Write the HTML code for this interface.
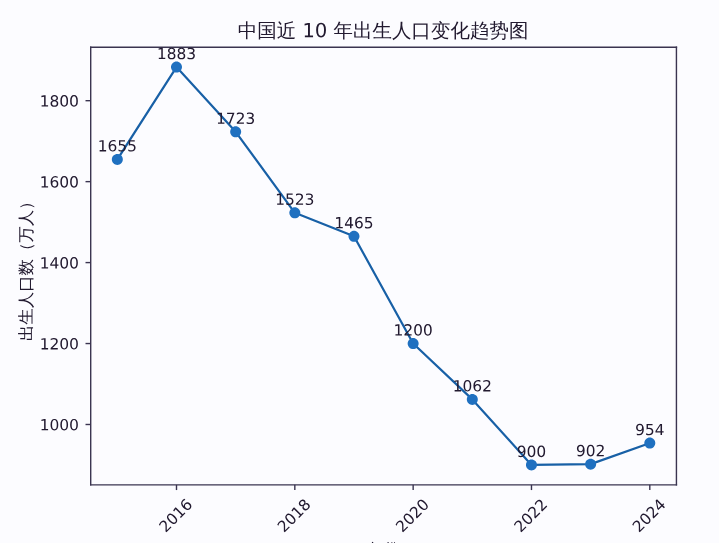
<!DOCTYPE html><html><head><meta charset="utf-8"><style>html,body{margin:0;padding:0;background:#fcfcff;overflow:hidden}svg{display:block}g[id^="text_"] use{stroke:#221a30;stroke-width:0.4}#text_21 use,#text_22 use,#text_23 use{stroke:#221a30;stroke-width:0.8}</style></head><body><svg width="719" height="543" viewBox="0 0 719 543" version="1.1">
<defs>
<style type="text/css">*{stroke-linejoin: round; stroke-linecap: butt}</style>
</defs>
<g id="figure_1">
<g id="patch_1">
<path d="M 0 543 
L 719 543 
L 719 0 
L 0 0 
z
" style="fill: #fcfcff"/>
</g>
<g id="axes_1">
<g id="patch_2">
<path d="M 90.71 484.86 
L 676.43 484.86 
L 676.43 47.2 
L 90.71 47.2 
z
" style="fill: #fcfcff"/>
</g>
<g id="matplotlib.axis_1">
<g id="xtick_1">
<g id="line2d_1">
<defs>
<path id="m2a3c18545f" d="M 0 0 
L 0 5.2 
" style="stroke: #3a3450; stroke-width: 1.4"/>
</defs>
<g>
<use href="#m2a3c18545f" x="176.497273" y="484.86" style="fill: #3a3450; stroke: #3a3450; stroke-width: 1.4"/>
</g>
</g>
<g id="text_1">
<!-- 2016 -->
<g style="fill: #221a30" transform="translate(165.645261 533.147912) rotate(-45) scale(0.154 -0.154)">
<defs>
<path id="DejaVuSans-32" d="M 1228 531 
L 3431 531 
L 3431 0 
L 469 0 
L 469 531 
Q 828 903 1448 1529 
Q 2069 2156 2228 2338 
Q 2531 2678 2651 2914 
Q 2772 3150 2772 3378 
Q 2772 3750 2511 3984 
Q 2250 4219 1831 4219 
Q 1534 4219 1204 4116 
Q 875 4013 500 3803 
L 500 4441 
Q 881 4594 1212 4672 
Q 1544 4750 1819 4750 
Q 2544 4750 2975 4387 
Q 3406 4025 3406 3419 
Q 3406 3131 3298 2873 
Q 3191 2616 2906 2266 
Q 2828 2175 2409 1742 
Q 1991 1309 1228 531 
z
" transform="scale(0.015625)"/>
<path id="DejaVuSans-30" d="M 2034 4250 
Q 1547 4250 1301 3770 
Q 1056 3291 1056 2328 
Q 1056 1369 1301 889 
Q 1547 409 2034 409 
Q 2525 409 2770 889 
Q 3016 1369 3016 2328 
Q 3016 3291 2770 3770 
Q 2525 4250 2034 4250 
z
M 2034 4750 
Q 2819 4750 3233 4129 
Q 3647 3509 3647 2328 
Q 3647 1150 3233 529 
Q 2819 -91 2034 -91 
Q 1250 -91 836 529 
Q 422 1150 422 2328 
Q 422 3509 836 4129 
Q 1250 4750 2034 4750 
z
" transform="scale(0.015625)"/>
<path id="DejaVuSans-31" d="M 794 531 
L 1825 531 
L 1825 4091 
L 703 3866 
L 703 4441 
L 1819 4666 
L 2450 4666 
L 2450 531 
L 3481 531 
L 3481 0 
L 794 0 
L 794 531 
z
" transform="scale(0.015625)"/>
<path id="DejaVuSans-36" d="M 2113 2584 
Q 1688 2584 1439 2293 
Q 1191 2003 1191 1497 
Q 1191 994 1439 701 
Q 1688 409 2113 409 
Q 2538 409 2786 701 
Q 3034 994 3034 1497 
Q 3034 2003 2786 2293 
Q 2538 2584 2113 2584 
z
M 3366 4563 
L 3366 3988 
Q 3128 4100 2886 4159 
Q 2644 4219 2406 4219 
Q 1781 4219 1451 3797 
Q 1122 3375 1075 2522 
Q 1259 2794 1537 2939 
Q 1816 3084 2150 3084 
Q 2853 3084 3261 2657 
Q 3669 2231 3669 1497 
Q 3669 778 3244 343 
Q 2819 -91 2113 -91 
Q 1303 -91 875 529 
Q 447 1150 447 2328 
Q 447 3434 972 4092 
Q 1497 4750 2381 4750 
Q 2619 4750 2861 4703 
Q 3103 4656 3366 4563 
z
" transform="scale(0.015625)"/>
</defs>
<use href="#DejaVuSans-32"/>
<use href="#DejaVuSans-30" transform="translate(63.623047 0)"/>
<use href="#DejaVuSans-31" transform="translate(127.246094 0)"/>
<use href="#DejaVuSans-36" transform="translate(190.869141 0)"/>
</g>
</g>
</g>
<g id="xtick_2">
<g id="line2d_2">
<g>
<use href="#m2a3c18545f" x="294.824545" y="484.86" style="fill: #3a3450; stroke: #3a3450; stroke-width: 1.4"/>
</g>
</g>
<g id="text_2">
<!-- 2018 -->
<g style="fill: #221a30" transform="translate(283.972533 533.147912) rotate(-45) scale(0.154 -0.154)">
<defs>
<path id="DejaVuSans-38" d="M 2034 2216 
Q 1584 2216 1326 1975 
Q 1069 1734 1069 1313 
Q 1069 891 1326 650 
Q 1584 409 2034 409 
Q 2484 409 2743 651 
Q 3003 894 3003 1313 
Q 3003 1734 2745 1975 
Q 2488 2216 2034 2216 
z
M 1403 2484 
Q 997 2584 770 2862 
Q 544 3141 544 3541 
Q 544 4100 942 4425 
Q 1341 4750 2034 4750 
Q 2731 4750 3128 4425 
Q 3525 4100 3525 3541 
Q 3525 3141 3298 2862 
Q 3072 2584 2669 2484 
Q 3125 2378 3379 2068 
Q 3634 1759 3634 1313 
Q 3634 634 3220 271 
Q 2806 -91 2034 -91 
Q 1263 -91 848 271 
Q 434 634 434 1313 
Q 434 1759 690 2068 
Q 947 2378 1403 2484 
z
M 1172 3481 
Q 1172 3119 1398 2916 
Q 1625 2713 2034 2713 
Q 2441 2713 2670 2916 
Q 2900 3119 2900 3481 
Q 2900 3844 2670 4047 
Q 2441 4250 2034 4250 
Q 1625 4250 1398 4047 
Q 1172 3844 1172 3481 
z
" transform="scale(0.015625)"/>
</defs>
<use href="#DejaVuSans-32"/>
<use href="#DejaVuSans-30" transform="translate(63.623047 0)"/>
<use href="#DejaVuSans-31" transform="translate(127.246094 0)"/>
<use href="#DejaVuSans-38" transform="translate(190.869141 0)"/>
</g>
</g>
</g>
<g id="xtick_3">
<g id="line2d_3">
<g>
<use href="#m2a3c18545f" x="413.151818" y="484.86" style="fill: #3a3450; stroke: #3a3450; stroke-width: 1.4"/>
</g>
</g>
<g id="text_3">
<!-- 2020 -->
<g style="fill: #221a30" transform="translate(402.299806 533.147912) rotate(-45) scale(0.154 -0.154)">
<use href="#DejaVuSans-32"/>
<use href="#DejaVuSans-30" transform="translate(63.623047 0)"/>
<use href="#DejaVuSans-32" transform="translate(127.246094 0)"/>
<use href="#DejaVuSans-30" transform="translate(190.869141 0)"/>
</g>
</g>
</g>
<g id="xtick_4">
<g id="line2d_4">
<g>
<use href="#m2a3c18545f" x="531.479091" y="484.86" style="fill: #3a3450; stroke: #3a3450; stroke-width: 1.4"/>
</g>
</g>
<g id="text_4">
<!-- 2022 -->
<g style="fill: #221a30" transform="translate(520.627079 533.147912) rotate(-45) scale(0.154 -0.154)">
<use href="#DejaVuSans-32"/>
<use href="#DejaVuSans-30" transform="translate(63.623047 0)"/>
<use href="#DejaVuSans-32" transform="translate(127.246094 0)"/>
<use href="#DejaVuSans-32" transform="translate(190.869141 0)"/>
</g>
</g>
</g>
<g id="xtick_5">
<g id="line2d_5">
<g>
<use href="#m2a3c18545f" x="649.806364" y="484.86" style="fill: #3a3450; stroke: #3a3450; stroke-width: 1.4"/>
</g>
</g>
<g id="text_5">
<!-- 2024 -->
<g style="fill: #221a30" transform="translate(638.954352 533.147912) rotate(-45) scale(0.154 -0.154)">
<defs>
<path id="DejaVuSans-34" d="M 2419 4116 
L 825 1625 
L 2419 1625 
L 2419 4116 
z
M 2253 4666 
L 3047 4666 
L 3047 1625 
L 3713 1625 
L 3713 1100 
L 3047 1100 
L 3047 0 
L 2419 0 
L 2419 1100 
L 313 1100 
L 313 1709 
L 2253 4666 
z
" transform="scale(0.015625)"/>
</defs>
<use href="#DejaVuSans-32"/>
<use href="#DejaVuSans-30" transform="translate(63.623047 0)"/>
<use href="#DejaVuSans-32" transform="translate(127.246094 0)"/>
<use href="#DejaVuSans-34" transform="translate(190.869141 0)"/>
</g>
</g>
</g>
</g>
<g id="matplotlib.axis_2">
<g id="ytick_1">
<g id="line2d_6">
<defs>
<path id="mef8ab3b130" d="M 0 0 
L -5.2 0 
" style="stroke: #3a3450; stroke-width: 1.4"/>
</defs>
<g>
<use href="#mef8ab3b130" x="90.71" y="424.49101" style="fill: #3a3450; stroke: #3a3450; stroke-width: 1.4"/>
</g>
</g>
<g id="text_6">
<!-- 1000 -->
<g style="fill: #221a30" transform="translate(39.717 430.341807) scale(0.154 -0.154)">
<use href="#DejaVuSans-31"/>
<use href="#DejaVuSans-30" transform="translate(63.623047 0)"/>
<use href="#DejaVuSans-30" transform="translate(127.246094 0)"/>
<use href="#DejaVuSans-30" transform="translate(190.869141 0)"/>
</g>
</g>
</g>
<g id="ytick_2">
<g id="line2d_7">
<g>
<use href="#mef8ab3b130" x="90.71" y="343.540302" style="fill: #3a3450; stroke: #3a3450; stroke-width: 1.4"/>
</g>
</g>
<g id="text_7">
<!-- 1200 -->
<g style="fill: #221a30" transform="translate(39.717 349.391099) scale(0.154 -0.154)">
<use href="#DejaVuSans-31"/>
<use href="#DejaVuSans-32" transform="translate(63.623047 0)"/>
<use href="#DejaVuSans-30" transform="translate(127.246094 0)"/>
<use href="#DejaVuSans-30" transform="translate(190.869141 0)"/>
</g>
</g>
</g>
<g id="ytick_3">
<g id="line2d_8">
<g>
<use href="#mef8ab3b130" x="90.71" y="262.589595" style="fill: #3a3450; stroke: #3a3450; stroke-width: 1.4"/>
</g>
</g>
<g id="text_8">
<!-- 1400 -->
<g style="fill: #221a30" transform="translate(39.717 268.440392) scale(0.154 -0.154)">
<use href="#DejaVuSans-31"/>
<use href="#DejaVuSans-34" transform="translate(63.623047 0)"/>
<use href="#DejaVuSans-30" transform="translate(127.246094 0)"/>
<use href="#DejaVuSans-30" transform="translate(190.869141 0)"/>
</g>
</g>
</g>
<g id="ytick_4">
<g id="line2d_9">
<g>
<use href="#mef8ab3b130" x="90.71" y="181.638887" style="fill: #3a3450; stroke: #3a3450; stroke-width: 1.4"/>
</g>
</g>
<g id="text_9">
<!-- 1600 -->
<g style="fill: #221a30" transform="translate(39.717 187.489684) scale(0.154 -0.154)">
<use href="#DejaVuSans-31"/>
<use href="#DejaVuSans-36" transform="translate(63.623047 0)"/>
<use href="#DejaVuSans-30" transform="translate(127.246094 0)"/>
<use href="#DejaVuSans-30" transform="translate(190.869141 0)"/>
</g>
</g>
</g>
<g id="ytick_5">
<g id="line2d_10">
<g>
<use href="#mef8ab3b130" x="90.71" y="100.68818" style="fill: #3a3450; stroke: #3a3450; stroke-width: 1.4"/>
</g>
</g>
<g id="text_10">
<!-- 1800 -->
<g style="fill: #221a30" transform="translate(39.717 106.538977) scale(0.154 -0.154)">
<use href="#DejaVuSans-31"/>
<use href="#DejaVuSans-38" transform="translate(63.623047 0)"/>
<use href="#DejaVuSans-30" transform="translate(127.246094 0)"/>
<use href="#DejaVuSans-30" transform="translate(190.869141 0)"/>
</g>
</g>
</g>
</g>
<g id="line2d_11">
<path d="M 117.333636 159.377443 
L 176.497273 67.093636 
L 235.660909 131.854202 
L 294.824545 212.80491 
L 353.988182 236.280615 
L 413.151818 343.540302 
L 472.315455 399.396291 
L 531.479091 464.966364 
L 590.642727 464.156857 
L 649.806364 443.109673 
" clip-path="url(#pcb9a251794)" style="fill: none; stroke: #1860a6; stroke-width: 2.2; stroke-linecap: square"/>
</g>
<g id="line2d_12">
<defs>
<path id="mc43b72690f" d="M 0 5.5 
C 1.458617 5.5 2.857689 4.920485 3.889087 3.889087 
C 4.920485 2.857689 5.5 1.458617 5.5 0 
C 5.5 -1.458617 4.920485 -2.857689 3.889087 -3.889087 
C 2.857689 -4.920485 1.458617 -5.5 0 -5.5 
C -1.458617 -5.5 -2.857689 -4.920485 -3.889087 -3.889087 
C -4.920485 -2.857689 -5.5 -1.458617 -5.5 0 
C -5.5 1.458617 -4.920485 2.857689 -3.889087 3.889087 
C -2.857689 4.920485 -1.458617 5.5 0 5.5 
z
"/>
</defs>
<g clip-path="url(#pcb9a251794)">
<use href="#mc43b72690f" x="117.333636" y="159.377443" style="fill: #1f70c0"/>
<use href="#mc43b72690f" x="176.497273" y="67.093636" style="fill: #1f70c0"/>
<use href="#mc43b72690f" x="235.660909" y="131.854202" style="fill: #1f70c0"/>
<use href="#mc43b72690f" x="294.824545" y="212.80491" style="fill: #1f70c0"/>
<use href="#mc43b72690f" x="353.988182" y="236.280615" style="fill: #1f70c0"/>
<use href="#mc43b72690f" x="413.151818" y="343.540302" style="fill: #1f70c0"/>
<use href="#mc43b72690f" x="472.315455" y="399.396291" style="fill: #1f70c0"/>
<use href="#mc43b72690f" x="531.479091" y="464.966364" style="fill: #1f70c0"/>
<use href="#mc43b72690f" x="590.642727" y="464.156857" style="fill: #1f70c0"/>
<use href="#mc43b72690f" x="649.806364" y="443.109673" style="fill: #1f70c0"/>
</g>
</g>
<g id="patch_3">
<path d="M 90.71 484.86 
L 90.71 47.2 
" style="fill: none; stroke: #3a3450; stroke-width: 1.4; stroke-linejoin: miter; stroke-linecap: square"/>
</g>
<g id="patch_4">
<path d="M 676.43 484.86 
L 676.43 47.2 
" style="fill: none; stroke: #3a3450; stroke-width: 1.4; stroke-linejoin: miter; stroke-linecap: square"/>
</g>
<g id="patch_5">
<path d="M 90.71 484.86 
L 676.43 484.86 
" style="fill: none; stroke: #3a3450; stroke-width: 1.4; stroke-linejoin: miter; stroke-linecap: square"/>
</g>
<g id="patch_6">
<path d="M 90.71 47.2 
L 676.43 47.2 
" style="fill: none; stroke: #3a3450; stroke-width: 1.4; stroke-linejoin: miter; stroke-linecap: square"/>
</g>
<g id="text_11">
<!-- 1655 -->
<g style="fill: #221a30" transform="translate(97.737136 151.377443) scale(0.154 -0.154)">
<defs>
<path id="DejaVuSans-35" d="M 691 4666 
L 3169 4666 
L 3169 4134 
L 1269 4134 
L 1269 2991 
Q 1406 3038 1543 3061 
Q 1681 3084 1819 3084 
Q 2600 3084 3056 2656 
Q 3513 2228 3513 1497 
Q 3513 744 3044 326 
Q 2575 -91 1722 -91 
Q 1428 -91 1123 -41 
Q 819 9 494 109 
L 494 744 
Q 775 591 1075 516 
Q 1375 441 1709 441 
Q 2250 441 2565 725 
Q 2881 1009 2881 1497 
Q 2881 1984 2565 2268 
Q 2250 2553 1709 2553 
Q 1456 2553 1204 2497 
Q 953 2441 691 2322 
L 691 4666 
z
" transform="scale(0.015625)"/>
</defs>
<use href="#DejaVuSans-31"/>
<use href="#DejaVuSans-36" transform="translate(63.623047 0)"/>
<use href="#DejaVuSans-35" transform="translate(127.246094 0)"/>
<use href="#DejaVuSans-35" transform="translate(190.869141 0)"/>
</g>
</g>
<g id="text_12">
<!-- 1883 -->
<g style="fill: #221a30" transform="translate(156.900773 59.093636) scale(0.154 -0.154)">
<defs>
<path id="DejaVuSans-33" d="M 2597 2516 
Q 3050 2419 3304 2112 
Q 3559 1806 3559 1356 
Q 3559 666 3084 287 
Q 2609 -91 1734 -91 
Q 1441 -91 1130 -33 
Q 819 25 488 141 
L 488 750 
Q 750 597 1062 519 
Q 1375 441 1716 441 
Q 2309 441 2620 675 
Q 2931 909 2931 1356 
Q 2931 1769 2642 2001 
Q 2353 2234 1838 2234 
L 1294 2234 
L 1294 2753 
L 1863 2753 
Q 2328 2753 2575 2939 
Q 2822 3125 2822 3475 
Q 2822 3834 2567 4026 
Q 2313 4219 1838 4219 
Q 1578 4219 1281 4162 
Q 984 4106 628 3988 
L 628 4550 
Q 988 4650 1302 4700 
Q 1616 4750 1894 4750 
Q 2613 4750 3031 4423 
Q 3450 4097 3450 3541 
Q 3450 3153 3228 2886 
Q 3006 2619 2597 2516 
z
" transform="scale(0.015625)"/>
</defs>
<use href="#DejaVuSans-31"/>
<use href="#DejaVuSans-38" transform="translate(63.623047 0)"/>
<use href="#DejaVuSans-38" transform="translate(127.246094 0)"/>
<use href="#DejaVuSans-33" transform="translate(190.869141 0)"/>
</g>
</g>
<g id="text_13">
<!-- 1723 -->
<g style="fill: #221a30" transform="translate(216.064409 123.854202) scale(0.154 -0.154)">
<defs>
<path id="DejaVuSans-37" d="M 525 4666 
L 3525 4666 
L 3525 4397 
L 1831 0 
L 1172 0 
L 2766 4134 
L 525 4134 
L 525 4666 
z
" transform="scale(0.015625)"/>
</defs>
<use href="#DejaVuSans-31"/>
<use href="#DejaVuSans-37" transform="translate(63.623047 0)"/>
<use href="#DejaVuSans-32" transform="translate(127.246094 0)"/>
<use href="#DejaVuSans-33" transform="translate(190.869141 0)"/>
</g>
</g>
<g id="text_14">
<!-- 1523 -->
<g style="fill: #221a30" transform="translate(275.228045 204.80491) scale(0.154 -0.154)">
<use href="#DejaVuSans-31"/>
<use href="#DejaVuSans-35" transform="translate(63.623047 0)"/>
<use href="#DejaVuSans-32" transform="translate(127.246094 0)"/>
<use href="#DejaVuSans-33" transform="translate(190.869141 0)"/>
</g>
</g>
<g id="text_15">
<!-- 1465 -->
<g style="fill: #221a30" transform="translate(334.391682 228.280615) scale(0.154 -0.154)">
<use href="#DejaVuSans-31"/>
<use href="#DejaVuSans-34" transform="translate(63.623047 0)"/>
<use href="#DejaVuSans-36" transform="translate(127.246094 0)"/>
<use href="#DejaVuSans-35" transform="translate(190.869141 0)"/>
</g>
</g>
<g id="text_16">
<!-- 1200 -->
<g style="fill: #221a30" transform="translate(393.555318 335.540302) scale(0.154 -0.154)">
<use href="#DejaVuSans-31"/>
<use href="#DejaVuSans-32" transform="translate(63.623047 0)"/>
<use href="#DejaVuSans-30" transform="translate(127.246094 0)"/>
<use href="#DejaVuSans-30" transform="translate(190.869141 0)"/>
</g>
</g>
<g id="text_17">
<!-- 1062 -->
<g style="fill: #221a30" transform="translate(452.718955 391.396291) scale(0.154 -0.154)">
<use href="#DejaVuSans-31"/>
<use href="#DejaVuSans-30" transform="translate(63.623047 0)"/>
<use href="#DejaVuSans-36" transform="translate(127.246094 0)"/>
<use href="#DejaVuSans-32" transform="translate(190.869141 0)"/>
</g>
</g>
<g id="text_18">
<!-- 900 -->
<g style="fill: #221a30" transform="translate(516.781716 456.966364) scale(0.154 -0.154)">
<defs>
<path id="DejaVuSans-39" d="M 703 97 
L 703 672 
Q 941 559 1184 500 
Q 1428 441 1663 441 
Q 2288 441 2617 861 
Q 2947 1281 2994 2138 
Q 2813 1869 2534 1725 
Q 2256 1581 1919 1581 
Q 1219 1581 811 2004 
Q 403 2428 403 3163 
Q 403 3881 828 4315 
Q 1253 4750 1959 4750 
Q 2769 4750 3195 4129 
Q 3622 3509 3622 2328 
Q 3622 1225 3098 567 
Q 2575 -91 1691 -91 
Q 1453 -91 1209 -44 
Q 966 3 703 97 
z
M 1959 2075 
Q 2384 2075 2632 2365 
Q 2881 2656 2881 3163 
Q 2881 3666 2632 3958 
Q 2384 4250 1959 4250 
Q 1534 4250 1286 3958 
Q 1038 3666 1038 3163 
Q 1038 2656 1286 2365 
Q 1534 2075 1959 2075 
z
" transform="scale(0.015625)"/>
</defs>
<use href="#DejaVuSans-39"/>
<use href="#DejaVuSans-30" transform="translate(63.623047 0)"/>
<use href="#DejaVuSans-30" transform="translate(127.246094 0)"/>
</g>
</g>
<g id="text_19">
<!-- 902 -->
<g style="fill: #221a30" transform="translate(575.945352 456.156857) scale(0.154 -0.154)">
<use href="#DejaVuSans-39"/>
<use href="#DejaVuSans-30" transform="translate(63.623047 0)"/>
<use href="#DejaVuSans-32" transform="translate(127.246094 0)"/>
</g>
</g>
<g id="text_20">
<!-- 954 -->
<g style="fill: #221a30" transform="translate(635.108989 435.109673) scale(0.154 -0.154)">
<use href="#DejaVuSans-39"/>
<use href="#DejaVuSans-35" transform="translate(63.623047 0)"/>
<use href="#DejaVuSans-34" transform="translate(127.246094 0)"/>
</g>
</g>
</g>
<g id="text_21">
<!-- 中国近 10 年出生人口变化趋势图 -->
<g style="fill: #221a30" transform="translate(237.745781 37.2) scale(0.195 -0.195)">
<defs>
<path id="WenQuanYiZenHei-4e2d" d="M 3200 -688 
Q 2944 -663 2694 -688 
Q 2719 -225 2719 244 
L 2719 1700 
L 813 1700 
L 813 1375 
L 356 1375 
L 356 3938 
L 2719 3938 
L 2719 4331 
Q 2719 4794 2694 5263 
Q 2944 5238 3200 5263 
Q 3175 4794 3175 4331 
L 3175 3938 
L 5538 3938 
L 5538 1375 
L 5081 1375 
L 5081 1700 
L 3175 1700 
L 3175 244 
Q 3175 -225 3200 -688 
z
M 3175 2075 
L 5081 2075 
L 5081 3563 
L 3175 3563 
L 3175 2075 
z
M 2719 2075 
L 2719 3563 
L 813 3563 
L 813 2075 
L 2719 2075 
z
" transform="scale(0.015625)"/>
<path id="WenQuanYiZenHei-56fd" d="M 3238 2313 
L 3238 1088 
L 4444 1088 
Q 4781 1088 5119 1106 
Q 5100 919 5119 738 
Q 4781 756 4444 756 
L 1944 756 
Q 1606 756 1269 738 
Q 1288 919 1269 1106 
Q 1606 1088 1944 1088 
L 2800 1088 
L 2800 2313 
L 2356 2313 
Q 2019 2313 1681 2294 
Q 1700 2481 1681 2663 
Q 2019 2644 2356 2644 
L 2800 2644 
L 2800 3606 
L 2081 3606 
Q 1750 3606 1413 3588 
Q 1431 3769 1413 3950 
Q 1750 3938 2081 3938 
L 4288 3938 
Q 4625 3938 4956 3950 
Q 4938 3769 4956 3588 
Q 4625 3606 4288 3606 
L 3238 3606 
L 3238 2644 
L 4081 2644 
Q 4419 2644 4750 2663 
Q 4731 2481 4750 2294 
L 3944 2313 
L 4519 1619 
L 4144 1313 
L 3525 2056 
L 3831 2313 
L 3238 2313 
z
M 981 -775 
Q 738 -744 500 -775 
Q 519 -325 519 119 
L 519 4981 
L 5744 4975 
L 5744 -763 
L 5300 -763 
L 5300 -300 
Q 5031 -288 4763 -288 
L 1513 -288 
Q 1238 -288 963 -300 
Q 969 -538 981 -775 
z
M 5300 4650 
L 956 4650 
L 956 56 
Q 1238 44 1513 44 
L 4763 44 
Q 5031 44 5300 56 
L 5300 4650 
z
" transform="scale(0.015625)"/>
<path id="WenQuanYiZenHei-8fd1" d="M 1256 3125 
L 913 3125 
Q 563 3125 213 3113 
Q 238 3300 213 3488 
Q 563 3469 913 3469 
L 1700 3469 
L 1700 469 
Q 2056 231 2288 131 
Q 2775 -88 3663 -69 
L 6025 -88 
Q 5788 -256 5800 -550 
L 3663 -556 
Q 2769 -556 2169 -281 
Q 1769 -100 1456 213 
L 425 -506 
Q 325 -281 175 -88 
L 1256 475 
L 1256 3125 
z
M 1594 4338 
L 1213 4038 
L 488 4963 
L 875 5263 
L 1594 4338 
z
M 1888 581 
Q 2613 1056 2613 2281 
L 2613 4631 
L 3056 4631 
Q 3344 4663 4062 4878 
Q 4781 5094 5206 5300 
Q 5250 5056 5344 4831 
Q 4256 4600 3150 4263 
L 3056 4238 
L 3056 3269 
L 5138 3269 
Q 5488 3269 5838 3281 
Q 5813 3094 5838 2906 
Q 5488 2919 5138 2919 
L 4594 2919 
L 4594 1119 
Q 4594 669 4619 213 
Q 4375 238 4125 213 
Q 4150 669 4150 1119 
L 4150 2919 
L 3056 2919 
L 3056 2281 
Q 3056 1000 2306 306 
Q 2150 525 1888 581 
z
" transform="scale(0.015625)"/>
<path id="DejaVuSans-20" transform="scale(0.015625)"/>
<path id="WenQuanYiZenHei-5e74" d="M 3638 -769 
Q 3388 -744 3138 -769 
Q 3163 -313 3163 150 
L 3163 1044 
L 969 1044 
Q 606 1044 244 1025 
Q 263 1219 244 1419 
Q 606 1400 969 1400 
L 1406 1400 
L 1400 2963 
L 3163 2963 
L 3163 3925 
L 1725 3925 
Q 1131 2881 494 2244 
Q 319 2463 50 2544 
Q 756 3219 1125 3794 
Q 1494 4369 1763 5169 
Q 2006 5044 2269 4969 
L 1925 4281 
L 5044 4281 
Q 5406 4281 5769 4300 
Q 5750 4106 5769 3906 
Q 5406 3925 5044 3925 
L 3613 3925 
L 3613 2963 
L 4769 2963 
Q 5131 2963 5494 2981 
Q 5475 2788 5494 2588 
Q 5131 2606 4769 2606 
L 3613 2606 
L 3613 1400 
L 5406 1400 
Q 5769 1400 6131 1419 
Q 6113 1219 6131 1025 
Q 5769 1044 5406 1044 
L 3613 1044 
L 3613 150 
Q 3613 -313 3638 -769 
z
M 3163 1400 
L 3163 2606 
L 1850 2606 
L 1856 1400 
L 3163 1400 
z
" transform="scale(0.015625)"/>
<path id="WenQuanYiZenHei-51fa" d="M 5400 -594 
Q 5150 -569 4906 -594 
Q 4919 -356 4919 -119 
L 431 -119 
L 431 981 
Q 431 1438 406 1894 
Q 656 1869 900 1894 
Q 881 1438 881 981 
L 881 238 
L 2675 238 
L 2675 2500 
L 688 2500 
L 688 3488 
Q 688 3950 663 4406 
Q 913 4381 1163 4406 
Q 1138 3950 1138 3488 
L 1138 2856 
L 2675 2856 
L 2675 4344 
Q 2675 4806 2656 5263 
Q 2906 5238 3150 5263 
Q 3131 4806 3131 4344 
L 3131 2856 
L 4669 2856 
Q 4669 3175 4669 3562 
Q 4669 3950 4644 4406 
Q 4894 4381 5144 4406 
Q 5125 3988 5122 3516 
Q 5119 3044 5119 2500 
L 3131 2500 
L 3131 238 
L 4925 238 
L 4925 981 
Q 4925 1438 4906 1894 
Q 5150 1869 5400 1894 
Q 5381 1438 5381 981 
L 5381 325 
Q 5381 -138 5400 -594 
z
" transform="scale(0.015625)"/>
<path id="WenQuanYiZenHei-751f" d="M 6131 25 
Q 6113 -181 6131 -388 
Q 5756 -369 5375 -369 
L 1125 -369 
Q 744 -369 363 -388 
Q 381 -181 363 25 
Q 744 6 1125 6 
L 3056 6 
L 3056 1519 
L 1975 1519 
Q 1594 1519 1213 1500 
Q 1231 1706 1213 1913 
Q 1594 1894 1975 1894 
L 3056 1894 
L 3056 3269 
L 1550 3269 
Q 1119 2231 500 1538 
Q 319 1756 38 1819 
Q 863 2688 1138 3481 
Q 1325 4069 1438 4719 
Q 1706 4644 1981 4625 
Q 1863 4113 1694 3644 
L 3056 3644 
L 3056 4338 
Q 3056 4800 3031 5269 
Q 3288 5244 3538 5269 
Q 3513 4800 3513 4338 
L 3513 3644 
L 4931 3644 
Q 5313 3644 5694 3663 
Q 5675 3456 5694 3250 
Q 5313 3269 4931 3269 
L 3513 3269 
L 3513 1894 
L 4688 1894 
Q 5069 1894 5450 1913 
Q 5431 1706 5450 1500 
Q 5069 1519 4688 1519 
L 3513 1519 
L 3513 6 
L 5375 6 
Q 5756 6 6131 25 
z
" transform="scale(0.015625)"/>
<path id="WenQuanYiZenHei-4eba" d="M 2850 5063 
Q 3138 5031 3431 5063 
Q 3431 4475 3381 3969 
Q 3450 3256 3663 2506 
Q 4275 438 6156 -406 
Q 5900 -525 5781 -788 
Q 4719 -263 4081 681 
Q 3469 1550 3169 2675 
Q 2525 56 438 -994 
Q 338 -713 94 -544 
Q 788 -213 1350 321 
Q 1913 856 2266 1559 
Q 2619 2263 2734 3103 
Q 2850 3944 2850 5063 
z
" transform="scale(0.015625)"/>
<path id="WenQuanYiZenHei-53e3" d="M 1181 -781 
Q 925 -756 669 -781 
Q 688 -313 688 163 
L 694 4506 
L 5288 4506 
L 5288 -769 
L 4825 -769 
L 4825 219 
L 1156 219 
L 1156 163 
Q 1156 -313 1181 -781 
z
M 4825 4113 
L 1156 4113 
L 1156 619 
L 4825 619 
L 4825 4113 
z
" transform="scale(0.015625)"/>
<path id="WenQuanYiZenHei-53d8" d="M 3706 350 
Q 4506 -213 5725 -163 
Q 5569 -375 5588 -638 
Q 4413 -694 3400 75 
Q 2863 -344 2206 -559 
Q 1550 -775 838 -738 
Q 788 -475 650 -250 
Q 1294 -338 1919 -175 
Q 2544 -13 3056 369 
Q 2438 950 2025 1788 
Q 1856 1781 1688 1775 
Q 1706 1956 1688 2138 
L 2506 2119 
L 2506 4144 
L 1219 4144 
Q 881 4144 544 4131 
Q 563 4313 544 4494 
Q 881 4475 1219 4475 
L 3238 4475 
L 2656 5081 
L 3000 5419 
L 3631 4763 
L 3338 4475 
L 5463 4475 
Q 5800 4475 6138 4494 
Q 6113 4313 6138 4131 
Q 5800 4144 5463 4144 
L 4188 4144 
L 4188 3088 
Q 4188 2638 4206 2194 
Q 3963 2219 3725 2194 
Q 3744 2638 3744 3088 
L 3744 4144 
L 2950 4144 
L 2950 2119 
L 4719 2119 
Q 4463 1094 3706 350 
z
M 5700 2238 
Q 5144 2894 4513 3488 
L 4844 3838 
Q 5494 3231 6069 2556 
L 5700 2238 
z
M 1669 3813 
Q 1875 3681 2106 3600 
Q 1594 2475 456 1463 
Q 331 1656 119 1744 
Q 594 2150 944 2619 
Q 1294 3088 1669 3813 
z
M 2475 1788 
Q 2869 1081 3363 625 
Q 3875 1119 4138 1788 
L 2475 1788 
z
" transform="scale(0.015625)"/>
<path id="WenQuanYiZenHei-5316" d="M 3863 81 
Q 3863 -63 3922 -166 
Q 3981 -269 4088 -269 
L 5500 -269 
Q 5625 -263 5656 -138 
Q 5694 -31 5713 113 
L 5844 1019 
Q 6044 875 6294 875 
L 6081 -413 
Q 6056 -569 5963 -663 
Q 5913 -700 5850 -700 
L 4081 -700 
Q 3825 -700 3609 -509 
Q 3394 -319 3394 81 
L 3394 1456 
Q 2775 1044 2156 775 
Q 2075 1050 1844 1231 
Q 2706 1588 3394 2031 
L 3394 4138 
Q 3394 4613 3375 5081 
Q 3631 5056 3888 5081 
Q 3863 4613 3863 4138 
L 3863 2356 
Q 4375 2756 4869 3325 
Q 5213 3706 5406 3950 
Q 5606 3756 5844 3600 
Q 4881 2531 3863 1775 
L 3863 81 
z
M 1838 -769 
Q 1581 -744 1325 -769 
Q 1344 -300 1344 175 
L 1344 2838 
Q 944 2375 469 2044 
Q 331 2300 75 2431 
Q 556 2750 987 3175 
Q 1419 3600 1656 4075 
Q 1894 4588 2069 5150 
Q 2331 5044 2606 4988 
Q 2275 4131 1813 3444 
L 1813 175 
Q 1813 -300 1838 -769 
z
" transform="scale(0.015625)"/>
<path id="WenQuanYiZenHei-8d8b" d="M 3513 2725 
Q 3531 2881 3513 3038 
L 4188 3025 
L 4881 3994 
L 4000 3994 
Q 3731 3538 3350 3038 
Q 3200 3200 2981 3244 
Q 3306 3644 3537 4072 
Q 3769 4500 4038 5169 
Q 4250 5063 4469 5006 
Q 4338 4619 4156 4281 
L 5388 4281 
L 5456 3925 
Q 5319 3875 5241 3769 
Q 5163 3663 4706 3025 
L 5819 3025 
L 5819 225 
L 5400 225 
L 5400 725 
L 3838 725 
Q 3544 725 3250 706 
Q 3269 869 3250 1025 
Q 3544 1013 3838 1013 
L 5400 1013 
L 5400 1725 
L 4213 1725 
Q 3925 1725 3631 1706 
Q 3644 1869 3631 2025 
Q 3925 2013 4213 2013 
L 5400 2013 
L 5400 2738 
L 4100 2738 
Q 3806 2738 3513 2725 
z
M 175 -588 
Q 831 -75 781 1150 
Q 781 1575 763 2000 
Q 988 1975 1213 2000 
Q 1194 1575 1194 1150 
L 1194 881 
Q 1338 550 1606 300 
L 1606 2494 
L 1000 2494 
Q 713 2494 425 2481 
Q 438 2638 425 2794 
Q 713 2781 1000 2781 
L 1613 2781 
L 1613 3725 
L 1150 3725 
Q 863 3725 575 3713 
Q 594 3869 575 4031 
Q 863 4013 1150 4013 
L 1613 4013 
L 1613 4325 
Q 1613 4750 1594 5175 
Q 1819 5150 2044 5175 
Q 2025 4750 2025 4325 
L 2025 4013 
L 2856 4031 
Q 2838 3869 2856 3713 
L 2025 3725 
L 2025 2781 
L 2306 2781 
Q 2594 2781 2881 2794 
Q 2863 2638 2881 2481 
Q 2594 2494 2306 2494 
L 2019 2494 
L 2019 1563 
Q 2569 1569 2825 1581 
Q 2813 1419 2825 1263 
Q 2675 1269 2019 1275 
L 2019 19 
L 2000 19 
Q 2513 -256 3381 -331 
Q 3625 -350 4644 -387 
Q 5663 -425 5881 -425 
Q 5738 -594 5719 -869 
Q 5138 -844 4416 -822 
Q 3694 -800 3363 -769 
Q 1819 -650 1113 219 
Q 975 -394 575 -819 
Q 431 -638 175 -588 
z
" transform="scale(0.015625)"/>
<path id="WenQuanYiZenHei-52bf" d="M 1406 2413 
L 1406 3019 
Q 869 2788 356 2525 
Q 325 2813 144 3038 
Q 750 3138 1406 3356 
L 1406 4113 
L 900 4113 
Q 563 4113 231 4094 
Q 250 4275 231 4456 
Q 563 4438 900 4438 
L 1406 4438 
Q 1406 4869 1381 5294 
Q 1625 5269 1869 5294 
Q 1844 4869 1844 4438 
L 2081 4438 
Q 2419 4438 2750 4456 
Q 2731 4275 2750 4094 
Q 2419 4113 2081 4113 
L 1844 4113 
L 1844 3519 
L 2563 3806 
L 2594 3513 
L 1844 3206 
L 1844 2256 
Q 1844 1681 1063 1600 
L 869 1588 
Q 925 1888 744 2131 
Q 900 2106 1103 2103 
Q 1306 2100 1356 2137 
Q 1406 2175 1406 2413 
z
M 3550 3744 
L 3550 4244 
L 2850 4231 
Q 2869 4413 2850 4594 
L 3550 4575 
Q 3544 4944 3525 5306 
Q 3769 5281 4013 5306 
Q 3994 4944 3988 4575 
L 5075 4575 
L 5025 3631 
Q 5025 3456 5056 3109 
Q 5088 2763 5238 2528 
Q 5388 2294 5638 2206 
Q 5644 2681 5613 3150 
Q 5856 3125 6094 3150 
Q 6056 2544 6075 1938 
Q 6056 1756 5894 1719 
Q 5863 1706 5831 1694 
Q 5306 1769 4956 2166 
Q 4606 2563 4619 3081 
L 4638 3631 
L 4638 4244 
L 3988 4244 
L 3988 3744 
Q 3988 3419 3863 3106 
L 4513 2531 
L 4188 2175 
L 3625 2675 
Q 3163 2050 2363 1800 
Q 2300 2069 2063 2213 
Q 2450 2269 2765 2466 
Q 3081 2663 3288 2956 
L 2763 3363 
L 3050 3750 
L 3500 3400 
Q 3550 3575 3550 3744 
z
M 719 -931 
Q 650 -631 413 -506 
Q 1269 -425 2000 56 
Q 2563 419 2694 856 
L 1238 856 
Q 956 856 675 844 
Q 688 1006 675 1163 
Q 956 1150 1238 1150 
L 2738 1150 
L 2738 1850 
L 3150 1850 
L 3150 1150 
L 5269 1150 
L 5269 -363 
Q 5269 -563 5075 -731 
Q 4800 -944 4194 -938 
Q 4244 -600 4063 -406 
Q 4244 -431 4519 -434 
Q 4794 -438 4825 -406 
Q 4856 -375 4856 -294 
L 4856 856 
L 3119 856 
Q 2988 213 2259 -287 
Q 1531 -788 719 -931 
z
" transform="scale(0.015625)"/>
<path id="WenQuanYiZenHei-56fe" d="M 3963 -25 
L 5300 -25 
L 5300 4650 
L 950 4650 
L 950 -25 
L 3700 -25 
Q 2913 388 2088 731 
L 2275 1175 
Q 3225 781 4138 294 
L 3963 -25 
z
M 3681 1356 
L 3319 1038 
L 2631 1819 
L 2994 2138 
L 3681 1356 
z
M 4956 2144 
Q 4763 1969 4725 1713 
Q 3894 1850 3194 2469 
Q 2425 1800 1488 1388 
Q 1325 1600 1100 1744 
Q 2088 2094 2875 2781 
Q 2613 3069 2388 3419 
Q 2044 2931 1525 2500 
Q 1406 2700 1194 2794 
Q 1663 3163 1947 3597 
Q 2231 4031 2481 4638 
Q 2700 4538 2938 4481 
Q 2863 4256 2763 4044 
L 4538 4044 
Q 4094 3331 3494 2744 
Q 4106 2269 4956 2144 
z
M 969 -775 
Q 725 -744 488 -775 
Q 506 -325 506 119 
L 506 4981 
L 5744 4975 
L 5744 -763 
L 5300 -763 
L 5300 -356 
L 950 -356 
Q 956 -563 969 -775 
z
M 2675 3713 
Q 2900 3325 3163 3050 
Q 3475 3356 3725 3713 
L 2675 3713 
z
" transform="scale(0.015625)"/>
</defs>
<use href="#WenQuanYiZenHei-4e2d"/>
<use href="#WenQuanYiZenHei-56fd" transform="translate(100 0)"/>
<use href="#WenQuanYiZenHei-8fd1" transform="translate(200 0)"/>
<use href="#DejaVuSans-20" transform="translate(300 0)"/>
<use href="#DejaVuSans-31" transform="translate(331.787109 0)"/>
<use href="#DejaVuSans-30" transform="translate(395.410156 0)"/>
<use href="#DejaVuSans-20" transform="translate(459.033203 0)"/>
<use href="#WenQuanYiZenHei-5e74" transform="translate(490.820312 0)"/>
<use href="#WenQuanYiZenHei-51fa" transform="translate(590.820312 0)"/>
<use href="#WenQuanYiZenHei-751f" transform="translate(690.820312 0)"/>
<use href="#WenQuanYiZenHei-4eba" transform="translate(790.820312 0)"/>
<use href="#WenQuanYiZenHei-53e3" transform="translate(890.820312 0)"/>
<use href="#WenQuanYiZenHei-53d8" transform="translate(990.820312 0)"/>
<use href="#WenQuanYiZenHei-5316" transform="translate(1090.820312 0)"/>
<use href="#WenQuanYiZenHei-8d8b" transform="translate(1190.820312 0)"/>
<use href="#WenQuanYiZenHei-52bf" transform="translate(1290.820312 0)"/>
<use href="#WenQuanYiZenHei-56fe" transform="translate(1390.820312 0)"/>
</g>
</g>
<g id="text_22">
<!-- 出生人口数（万人） -->
<g style="fill: #221a30" transform="translate(31.541906 341) rotate(-90) scale(0.164 -0.164)">
<defs>
<path id="WenQuanYiZenHei-6570" d="M 263 1500 
Q 275 1663 263 1819 
Q 550 1806 844 1806 
L 1169 1806 
Q 1269 2100 1356 2400 
Q 1594 2313 1844 2275 
L 1638 1806 
L 2763 1806 
Q 2731 925 2175 244 
Q 2500 -38 2806 -350 
Q 2588 -481 2400 -656 
Q 2163 -344 1875 -69 
Q 1275 -600 488 -719 
Q 394 -481 225 -288 
Q 969 -269 1550 206 
Q 1169 506 744 725 
Q 919 1113 1069 1519 
L 263 1500 
z
M 2063 2375 
Q 1838 2394 1606 2375 
Q 1625 2800 1625 3225 
L 1625 3538 
Q 1475 3213 1206 2866 
Q 938 2519 388 2038 
Q 275 2225 69 2313 
Q 644 2788 1113 3538 
L 756 3538 
Q 463 3538 169 3525 
Q 188 3681 169 3844 
L 1031 3825 
L 331 4675 
L 688 4969 
L 1431 4063 
L 1144 3825 
L 1625 3825 
L 1625 4244 
Q 1625 4669 1606 5094 
Q 1838 5075 2063 5094 
Q 2044 4669 2044 4244 
L 2044 4044 
Q 2369 4463 2681 5056 
Q 2875 4925 3088 4844 
Q 2844 4363 2400 3825 
L 3156 3844 
Q 3138 3681 3156 3525 
L 2325 3538 
L 2981 2738 
L 2625 2444 
L 2044 3156 
Q 2044 2763 2063 2375 
z
M 1844 506 
Q 2213 950 2306 1519 
L 1519 1519 
L 1275 906 
Q 1569 719 1844 506 
z
M 2044 3538 
L 2044 3400 
L 2213 3538 
L 2044 3538 
z
M 2044 3825 
L 2213 3825 
Q 2138 3888 2044 3919 
L 2044 3825 
z
M 3825 5031 
Q 4038 4963 4288 4944 
Q 4175 4400 4031 3869 
L 4006 3781 
L 5381 3781 
Q 5688 3781 5994 3800 
Q 5981 3600 5994 3406 
L 5363 3419 
Q 5300 1925 4775 888 
Q 5319 106 6213 -306 
Q 6013 -438 5931 -694 
Q 5100 -288 4575 519 
Q 4000 -469 3006 -906 
Q 2950 -613 2781 -438 
Q 3794 -44 4344 913 
Q 3863 1806 3750 2963 
Q 3550 2381 3200 1806 
Q 3044 1981 2788 2025 
Q 3025 2406 3287 2937 
Q 3550 3469 3662 3991 
Q 3775 4513 3825 5031 
z
M 4069 3419 
Q 4081 2794 4215 2244 
Q 4350 1694 4538 1300 
Q 4913 2181 4938 3419 
L 4069 3419 
z
" transform="scale(0.015625)"/>
<path id="WenQuanYiZenHei-ff08" d="M 5438 -1094 
L 5106 -1094 
Q 4306 -100 4175 1231 
Q 4156 1438 4156 1656 
Q 4156 3031 4994 4244 
Q 5044 4313 5100 4388 
L 5431 4388 
Q 4638 3169 4625 1681 
Q 4625 188 5438 -1094 
z
" transform="scale(0.015625)"/>
<path id="WenQuanYiZenHei-4e07" d="M 2331 3413 
L 2331 4388 
L 956 4388 
Q 531 4388 113 4369 
Q 138 4594 113 4819 
Q 531 4800 956 4800 
L 5294 4800 
Q 5719 4800 6138 4819 
Q 6113 4594 6138 4369 
Q 5719 4388 5294 4388 
L 2800 4388 
L 2800 3244 
L 5275 3244 
L 5050 -150 
Q 4969 -756 4294 -825 
Q 4000 -856 3638 -850 
Q 3681 -675 3625 -525 
Q 3569 -375 3463 -275 
Q 3719 -306 4069 -300 
Q 4419 -294 4497 -244 
Q 4575 -194 4588 19 
L 4769 2831 
L 2775 2831 
Q 2669 1675 2153 753 
Q 1638 -169 750 -750 
Q 575 -481 256 -450 
Q 1213 50 1772 1034 
Q 2331 2019 2331 3413 
z
" transform="scale(0.015625)"/>
<path id="WenQuanYiZenHei-ff09" d="M 2244 1656 
Q 2244 306 1519 -788 
Q 1413 -950 1294 -1094 
L 963 -1094 
Q 1775 188 1775 1681 
Q 1775 3169 988 4363 
Q 975 4375 969 4388 
L 1300 4388 
Q 2169 3231 2238 1863 
Q 2244 1763 2244 1656 
z
" transform="scale(0.015625)"/>
</defs>
<use href="#WenQuanYiZenHei-51fa"/>
<use href="#WenQuanYiZenHei-751f" transform="translate(100 0)"/>
<use href="#WenQuanYiZenHei-4eba" transform="translate(200 0)"/>
<use href="#WenQuanYiZenHei-53e3" transform="translate(300 0)"/>
<use href="#WenQuanYiZenHei-6570" transform="translate(400 0)"/>
<use href="#WenQuanYiZenHei-ff08" transform="translate(500 0)"/>
<use href="#WenQuanYiZenHei-4e07" transform="translate(600 0)"/>
<use href="#WenQuanYiZenHei-4eba" transform="translate(700 0)"/>
<use href="#WenQuanYiZenHei-ff09" transform="translate(800 0)"/>
</g>
</g>
<g id="text_23">
<!-- 年份 -->
<g style="fill: #221a30" transform="translate(367.9 554.353562) scale(0.156 -0.156)">
<defs>
<path id="WenQuanYiZenHei-4efd" d="M 3475 2100 
L 2669 2081 
Q 2688 2256 2675 2413 
Q 2394 2025 2050 1725 
Q 1894 1956 1631 2056 
Q 2038 2400 2400 2844 
Q 2913 3456 3081 4356 
Q 3169 4719 3194 4956 
Q 3463 4888 3738 4875 
Q 3444 3481 2725 2475 
Q 3063 2463 3400 2463 
L 5169 2463 
Q 4488 3513 4300 4938 
L 4706 4981 
Q 4850 3956 5187 3284 
Q 5525 2613 6219 1994 
Q 5950 1950 5775 1744 
Q 5494 2006 5256 2338 
L 5256 -181 
Q 5225 -575 4913 -700 
Q 4606 -838 4188 -831 
Q 4250 -519 4050 -275 
Q 4225 -300 4472 -303 
Q 4719 -306 4759 -265 
Q 4800 -225 4800 -50 
L 4800 2100 
L 3975 2100 
Q 3931 1094 3453 297 
Q 2975 -500 2200 -831 
Q 2119 -563 1900 -388 
Q 2675 -94 3088 569 
Q 3450 1156 3475 2100 
z
M 2225 4925 
Q 1963 4075 1544 3338 
L 1544 31 
Q 1544 -413 1563 -850 
Q 1325 -825 1088 -850 
Q 1106 -413 1106 31 
L 1106 2681 
Q 794 2269 400 1931 
Q 256 2156 0 2256 
Q 344 2544 650 2875 
Q 1156 3425 1375 3950 
Q 1575 4469 1713 5050 
Q 1950 4963 2225 4925 
z
" transform="scale(0.015625)"/>
</defs>
<use href="#WenQuanYiZenHei-5e74"/>
<use href="#WenQuanYiZenHei-4efd" transform="translate(100 0)"/>
</g>
</g>
</g>
<defs>
<clipPath id="pcb9a251794">
<rect x="90.71" y="47.2" width="585.72" height="437.66"/>
</clipPath>
</defs>
</svg>
</body></html>
